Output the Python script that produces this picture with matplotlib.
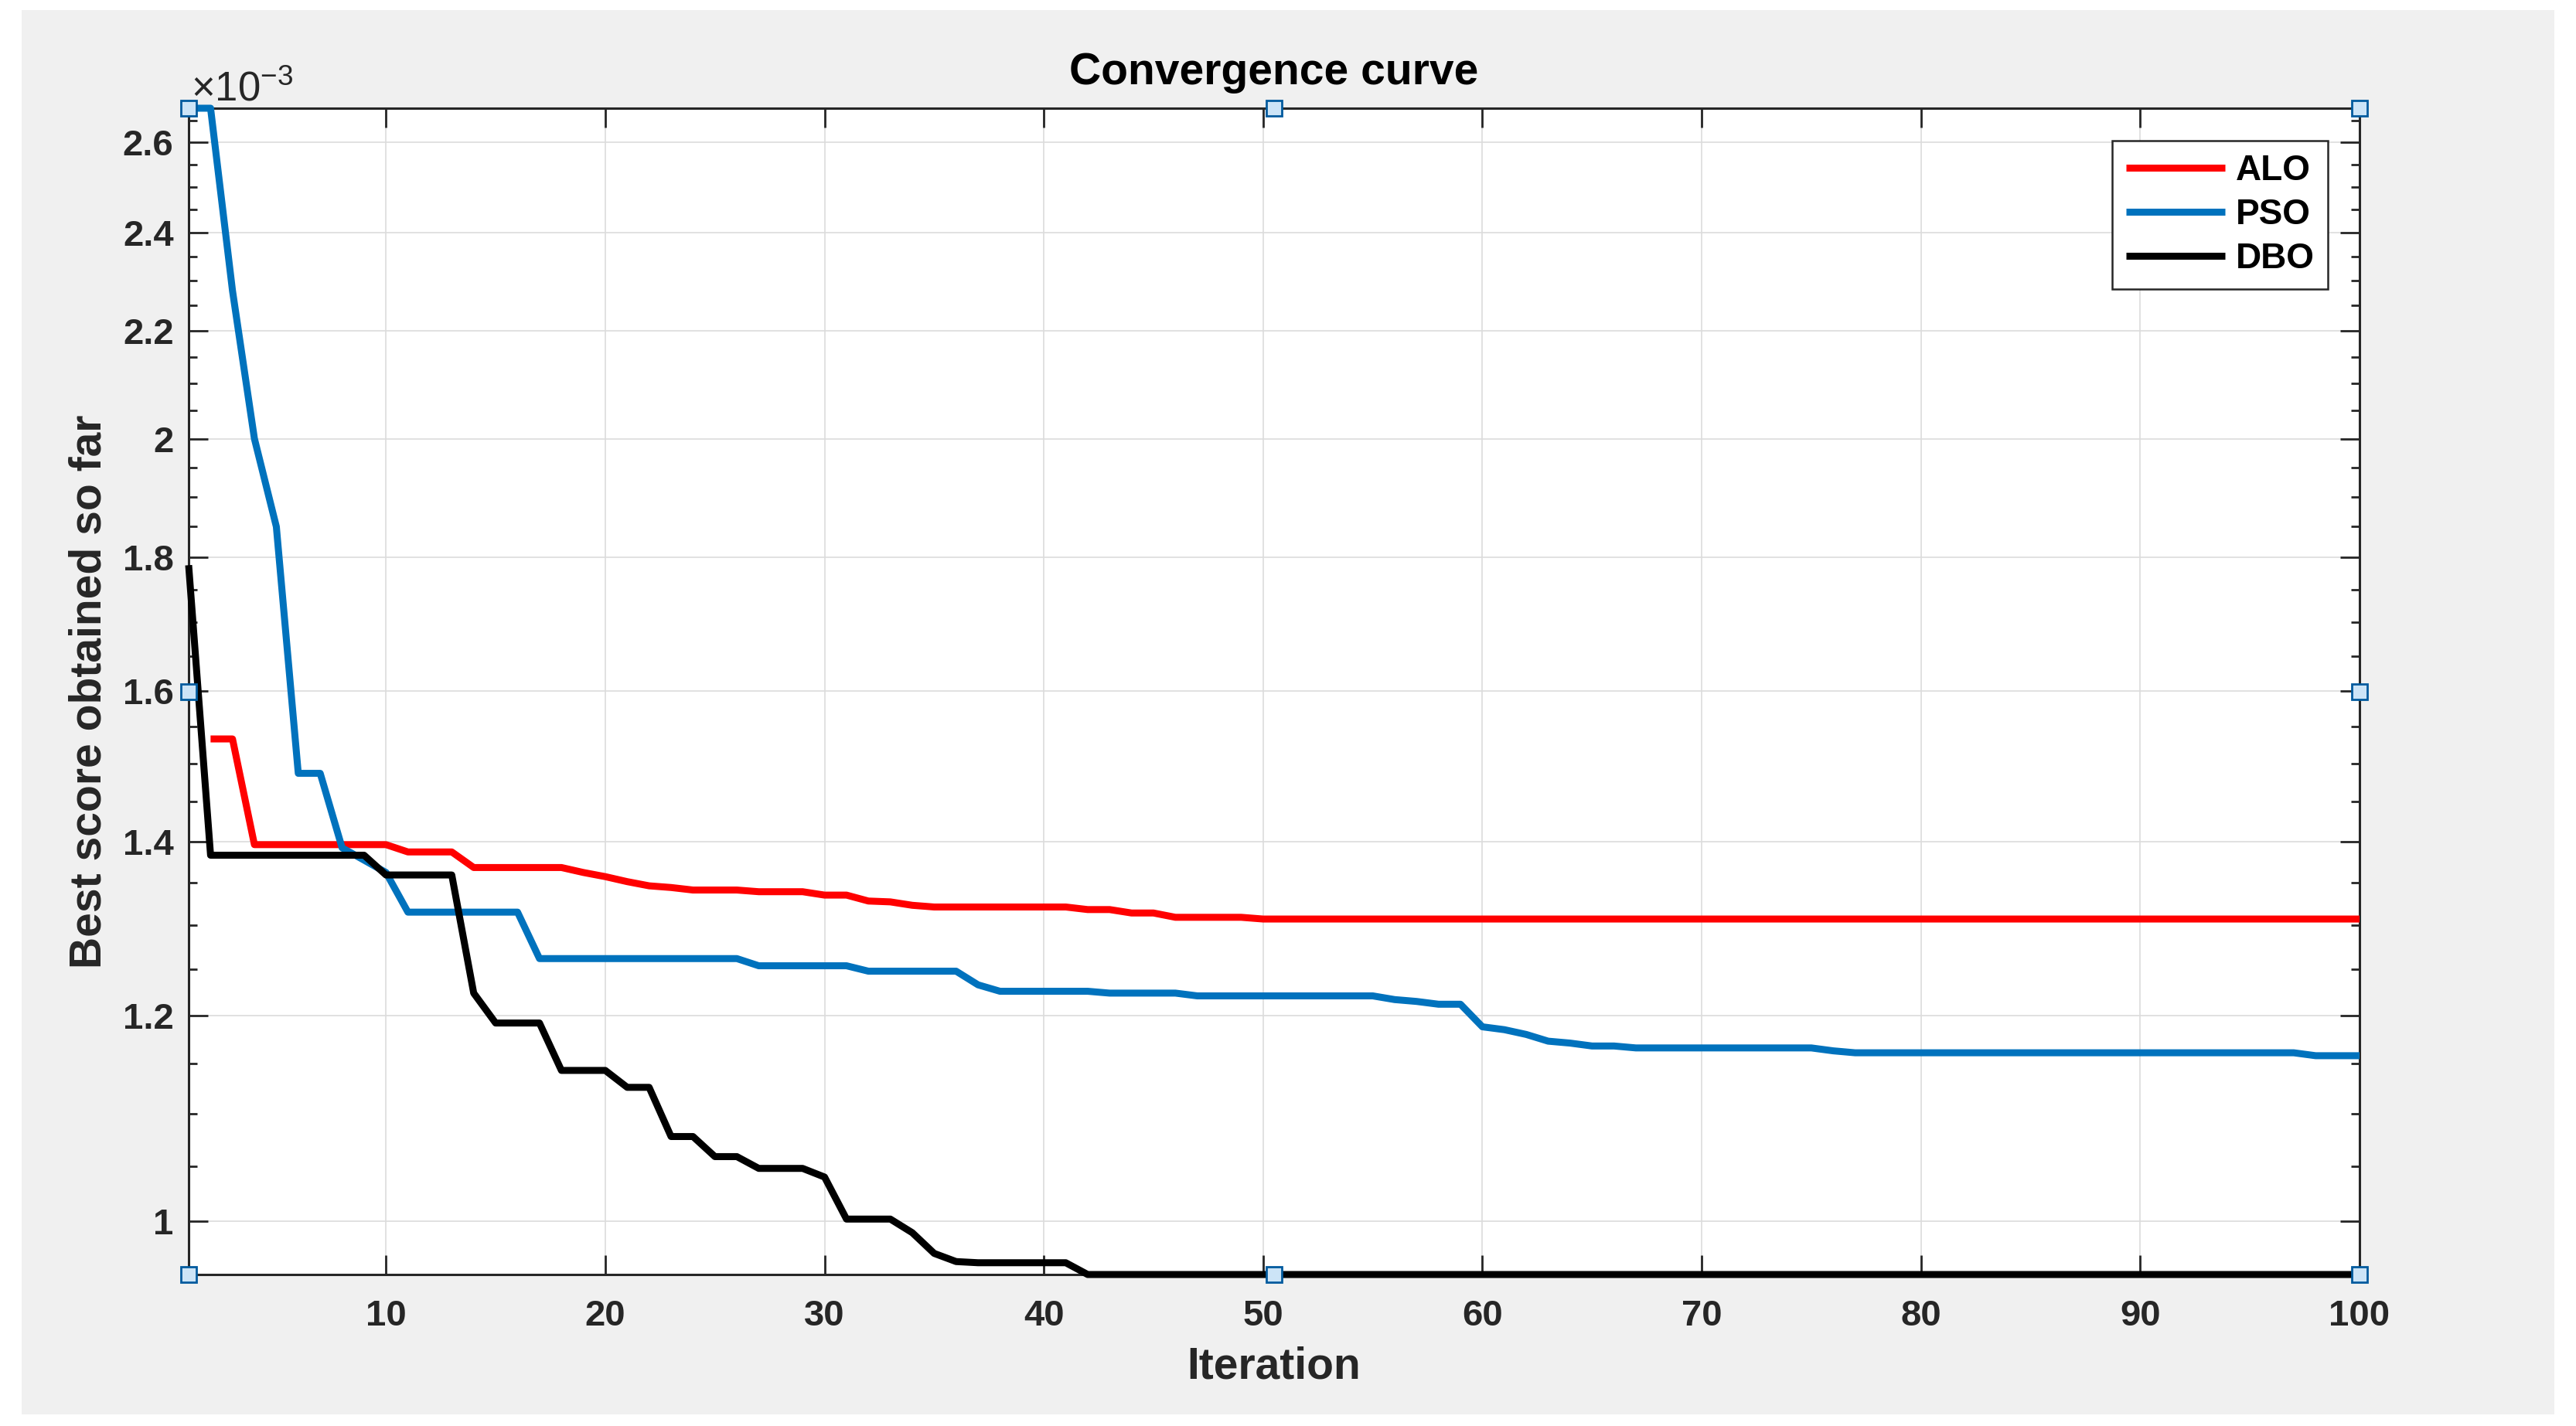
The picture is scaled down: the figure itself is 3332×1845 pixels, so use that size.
import matplotlib
matplotlib.use("Agg")
import matplotlib.pyplot as plt
from matplotlib.patches import Rectangle
from matplotlib.ticker import MultipleLocator, NullFormatter

plt.rcParams['font.family'] = ['Liberation Sans', 'DejaVu Sans']
plt.rcParams['mathtext.fontset'] = 'custom'
plt.rcParams['mathtext.rm'] = 'Liberation Sans'

# best score (x 1e-3) per iteration
iters = list(range(1, 101))
alo_iters = list(range(2, 101))

alo = [1.533, 1.533, 1.396, 1.396, 1.396, 1.396, 1.396, 1.396, 1.396,
       1.387, 1.387, 1.387, 1.368, 1.368, 1.368, 1.368, 1.368, 1.362, 1.357,
       1.351, 1.346, 1.344, 1.341, 1.341, 1.341, 1.339, 1.339, 1.339, 1.335,
       1.335, 1.328, 1.327, 1.323, 1.321, 1.321, 1.321, 1.321, 1.321, 1.321,
       1.321, 1.318, 1.318, 1.314, 1.314, 1.309, 1.309, 1.309, 1.309, 1.307,
       1.307, 1.307, 1.307, 1.307, 1.307, 1.307, 1.307, 1.307, 1.307, 1.307,
       1.307, 1.307, 1.307, 1.307, 1.307, 1.307, 1.307, 1.307, 1.307, 1.307,
       1.307, 1.307, 1.307, 1.307, 1.307, 1.307, 1.307, 1.307, 1.307, 1.307,
       1.307, 1.307, 1.307, 1.307, 1.307, 1.307, 1.307, 1.307, 1.307, 1.307,
       1.307, 1.307, 1.307, 1.307, 1.307, 1.307, 1.307, 1.307, 1.307, 1.307]

pso = [2.680, 2.680, 2.280, 2.000, 1.850, 1.487, 1.487, 1.392, 1.377, 1.362,
       1.315, 1.315, 1.315, 1.315, 1.315, 1.315, 1.262, 1.262, 1.262, 1.262,
       1.262, 1.262, 1.262, 1.262, 1.262, 1.262, 1.254, 1.254, 1.254, 1.254,
       1.254, 1.248, 1.248, 1.248, 1.248, 1.248, 1.233, 1.226, 1.226, 1.226,
       1.226, 1.226, 1.224, 1.224, 1.224, 1.224, 1.221, 1.221, 1.221, 1.221,
       1.221, 1.221, 1.221, 1.221, 1.221, 1.217, 1.215, 1.212, 1.212, 1.188,
       1.185, 1.180, 1.173, 1.171, 1.168, 1.168, 1.166, 1.166, 1.166, 1.166,
       1.166, 1.166, 1.166, 1.166, 1.166, 1.163, 1.161, 1.161, 1.161, 1.161,
       1.161, 1.161, 1.161, 1.161, 1.161, 1.161, 1.161, 1.161, 1.161, 1.161,
       1.161, 1.161, 1.161, 1.161, 1.161, 1.161, 1.161, 1.158, 1.158, 1.158]

dbo = [1.788, 1.383, 1.383, 1.383, 1.383, 1.383, 1.383, 1.383, 1.383, 1.359,
       1.359, 1.359, 1.359, 1.224, 1.192, 1.192, 1.192, 1.143, 1.143, 1.143,
       1.126, 1.126, 1.078, 1.078, 1.059, 1.059, 1.048, 1.048, 1.048, 1.040,
       1.002, 1.002, 1.002, 0.990, 0.972, 0.965, 0.964, 0.964, 0.964, 0.964,
       0.964, 0.954, 0.954, 0.954, 0.954, 0.954, 0.954, 0.954, 0.954, 0.954,
       0.954, 0.954, 0.954, 0.954, 0.954, 0.954, 0.954, 0.954, 0.954, 0.954,
       0.954, 0.954, 0.954, 0.954, 0.954, 0.954, 0.954, 0.954, 0.954, 0.954,
       0.954, 0.954, 0.954, 0.954, 0.954, 0.954, 0.954, 0.954, 0.954, 0.954,
       0.954, 0.954, 0.954, 0.954, 0.954, 0.954, 0.954, 0.954, 0.954, 0.954,
       0.954, 0.954, 0.954, 0.954, 0.954, 0.954, 0.954, 0.954, 0.954, 0.954]

scale = 1e-3
yticks = [1.0, 1.2, 1.4, 1.6, 1.8, 2.0, 2.2, 2.4, 2.6]
ytick_labels = ['1', '1.2', '1.4', '1.6', '1.8', '2', '2.2', '2.4', '2.6']
xticks = [10, 20, 30, 40, 50, 60, 70, 80, 90, 100]

fig = plt.figure(figsize=(33.32, 18.45), dpi=100, facecolor='white')
# matlab figure background
fig.patches.append(Rectangle((28 / 3332, 15 / 1845), 3276 / 3332, 1817 / 1845,
                             transform=fig.transFigure, facecolor='#f0f0f0',
                             edgecolor='none', zorder=-10))

ax = fig.add_axes([244 / 3332, 196 / 1845, 2808 / 3332, 1509 / 1845])
ax.set_facecolor('white')

ax.semilogy(alo_iters, [v * scale for v in alo], color='#ff0000', lw=6.5,
            label='ALO', clip_on=False, solid_capstyle='butt', zorder=3)
ax.semilogy(iters, [v * scale for v in pso], color='#0072bd', lw=6.5,
            label='PSO', clip_on=False, solid_capstyle='butt', zorder=3)
ax.semilogy(iters, [v * scale for v in dbo], color='black', lw=6.5,
            label='DBO', clip_on=False, solid_capstyle='butt', zorder=3)

ax.set_xlim(1, 100)
ax.set_ylim(min(dbo) * scale, max(pso) * scale)

ax.set_xticks(xticks)
ax.set_xticklabels([str(t) for t in xticks], fontsize=34, fontweight='bold')
ax.set_yticks([t * scale for t in yticks])
ax.set_yticklabels(ytick_labels, fontsize=34, fontweight='bold')
ax.yaxis.set_minor_locator(MultipleLocator(0.05 * scale))
ax.yaxis.set_minor_formatter(NullFormatter())

ax.tick_params(which='both', direction='in', top=True, right=True,
               color='#262626', labelcolor='#262626', width=2)
ax.tick_params(which='major', length=18)
ax.tick_params(which='minor', length=8)
ax.tick_params(axis='x', pad=23)
ax.tick_params(axis='y', pad=14)

for s in ax.spines.values():
    s.set_linewidth(2.2)
    s.set_color('#262626')

ax.grid(True, which='major', color='#dcdcdc', lw=1.2)
ax.set_axisbelow(True)

ax.set_title('Convergence curve', fontsize=41, fontweight='bold', pad=22)
ax.set_xlabel('Iteration', fontsize=41, fontweight='bold', labelpad=12,
              color='#262626')
ax.set_ylabel('Best score obtained so far', fontsize=41, fontweight='bold',
              labelpad=12, color='#262626')

ax.text(0.001, 1.006, r'$\times10^{-3}$', transform=ax.transAxes,
        fontsize=38, ha='left', va='baseline', color='#262626')

leg = ax.legend(loc='upper right', bbox_to_anchor=(0.9854, 0.9722),
                prop={'weight': 'bold', 'size': 33},
                frameon=True, fancybox=False, handlelength=2.8,
                handletextpad=0.3, labelspacing=0.28, borderpad=0.38,
                borderaxespad=0, framealpha=1)
leg.get_frame().set_edgecolor('#262626')
leg.get_frame().set_linewidth(1.8)

# matlab selection handles
hx = [0, 0.5, 1, 0, 1, 0, 0.5, 1]
hy = [1, 1, 1, 0.5, 0.5, 0, 0, 0]
ax.plot(hx, hy, linestyle='none', marker='s', markersize=14,
        markerfacecolor='#cce4f7', markeredgecolor='#005a9e',
        markeredgewidth=2, transform=ax.transAxes, clip_on=False, zorder=5)

fig.savefig('out.png', dpi=100, facecolor=fig.get_facecolor())
